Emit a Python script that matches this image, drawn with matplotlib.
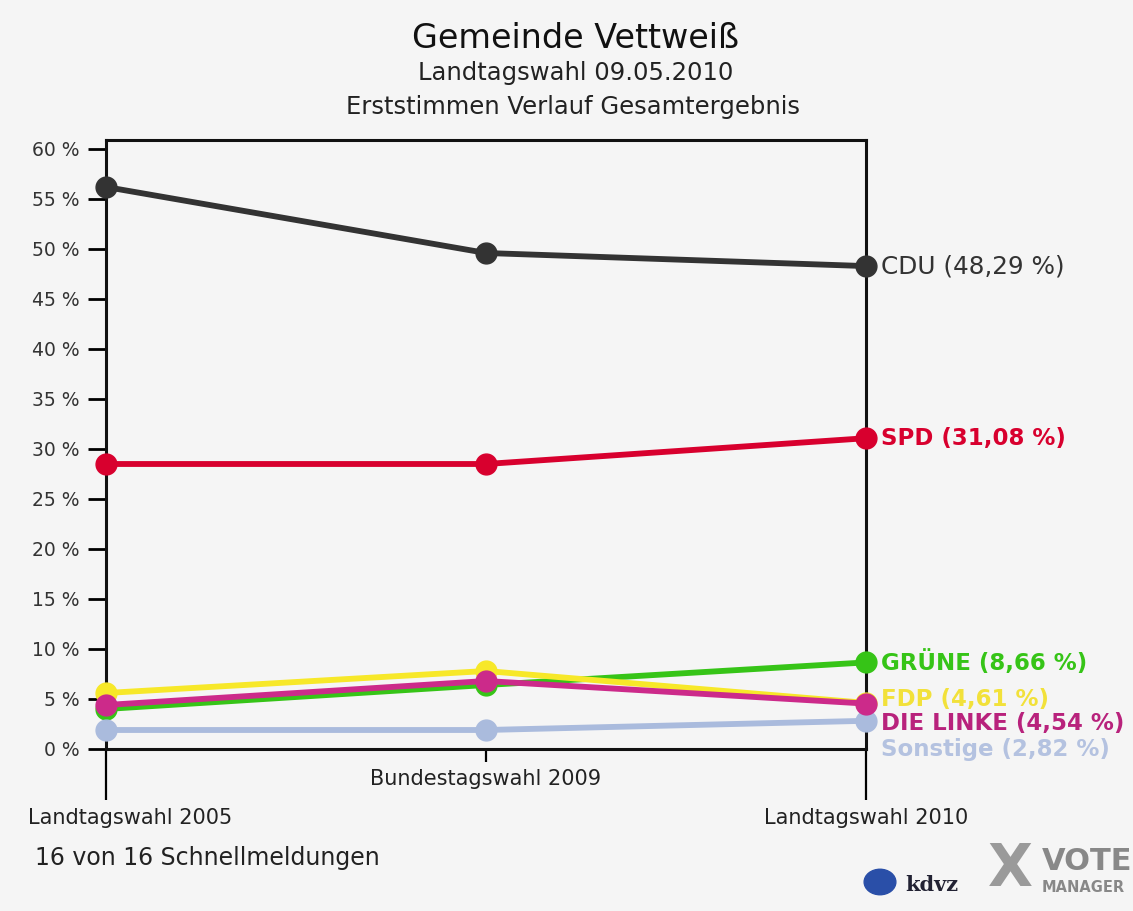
import matplotlib
matplotlib.use("Agg")
import matplotlib.pyplot as plt
from matplotlib.ticker import FixedLocator
from matplotlib.transforms import blended_transform_factory

plt.rcParams['font.family'] = ['DejaVu Sans']

elections = ["Landtagswahl 2005", "Bundestagswahl 2009", "Landtagswahl 2010"]
parties = ["CDU", "SPD", "GRÜNE", "FDP", "DIE LINKE", "Sonstige"]
cdu = [56.2, 49.6, 48.29]
spd = [28.5, 28.5, 31.08]
gruene = [4.0, 6.4, 8.66]
fdp = [5.6, 7.8, 4.61]
linke = [4.4, 6.8, 4.54]
sonstige = [1.9, 1.9, 2.82]
final_labels = ["48,29 %", "31,08 %", "8,66 %", "4,61 %", "4,54 %", "2,82 %"]
yticks = [0, 5, 10, 15, 20, 25, 30, 35, 40, 45, 50, 55, 60]

series = [cdu, spd, gruene, fdp, linke, sonstige]
colors = ["#333333", "#d8002e", "#36c417", "#f7e829", "#cc2a8a", "#aabbdd"]
label_colors = ["#333333", "#d8002e", "#36c417", "#f2e13a", "#b8227c", "#b4c2e0"]
label_weights = ["normal", "bold", "bold", "bold", "bold", "bold"]
label_dy = [0, 0, 0, 0.3, -2.0, -2.9]  # label offsets in data units to avoid overlap
zorders = [3, 3, 3, 4, 5, 4]

bg = "#f5f5f5"
fig = plt.figure(figsize=(11.33, 9.11), dpi=100, facecolor=bg)
ax = fig.add_axes([106/1133, 1-749/911, (866-106)/1133, (749-140)/911])
ax.set_facecolor(bg)

x = list(range(len(elections)))
for vals, c, z in zip(series, colors, zorders):
    ax.plot(x, vals, color=c, lw=4.2, marker="o", ms=15, solid_capstyle="round",
            zorder=z, clip_on=False)

for name, vals, lab, lc, w, dy in zip(parties, series, final_labels, label_colors,
                                       label_weights, label_dy):
    ax.annotate(f"{name} ({lab})", xy=(x[-1], vals[-1] + dy), xytext=(11, 0),
                textcoords="offset points", va="center", ha="left",
                fontsize=16.5 if w == "bold" else 17.8, fontweight=w, color=lc,
                annotation_clip=False)

ax.set_xlim(x[0], x[-1])
ax.set_ylim(0, 60.9)
for s in ax.spines.values():
    s.set_linewidth(2.2)
    s.set_color("#111111")

ax.set_yticks(yticks)
ax.set_yticklabels([f"{v} %" for v in yticks], fontsize=13.5, color="#333333")
ax.tick_params(axis="y", direction="out", length=13, width=2, pad=6)

ax.xaxis.set_major_locator(FixedLocator([x[0], x[-1]]))
ax.xaxis.set_minor_locator(FixedLocator([x[1]]))
ax.set_xticklabels([])
ax.set_xticklabels([], minor=True)
ax.tick_params(axis="x", which="major", direction="out", length=37, width=1.6)
ax.tick_params(axis="x", which="minor", direction="out", length=9, width=1.6)

tr = blended_transform_factory(ax.transData, fig.transFigure)
fig.text(28/1133, 1-818/911, elections[0], ha="left", va="center", fontsize=15, color="#222222")
ax.text(x[1], 1-779/911, elections[1], transform=tr, ha="center", va="center", fontsize=15, color="#222222")
ax.text(x[2], 1-818/911, elections[2], transform=tr, ha="center", va="center", fontsize=15, color="#222222")

fig.text(576/1133, 1-38/911, "Gemeinde Vettweiß", ha="center", va="center", fontsize=24, color="#111111")
fig.text(576/1133, 1-73/911, "Landtagswahl 09.05.2010", ha="center", va="center", fontsize=17.5, color="#222222")
fig.text(573/1133, 1-107/911, "Erststimmen Verlauf Gesamtergebnis", ha="center", va="center", fontsize=17.5, color="#222222")
fig.text(35/1133, 1-858/911, "16 von 16 Schnellmeldungen", ha="left", va="center", fontsize=17, color="#222222")

# logos (approximate)
fig.text(905/1133, 1-885/911, "kdvz", ha="left", va="center", fontsize=15, fontweight="bold",
         family="DejaVu Serif", color="#223")
fig.text(1010/1133, 1-870/911, "X", ha="center", va="center", fontsize=42, fontweight="bold", color="#9a9a9a")
fig.text(1042/1133, 1-862/911, "VOTE", ha="left", va="center", fontsize=22, fontweight="bold", color="#888888")
fig.text(1042/1133, 1-888/911, "MANAGER", ha="left", va="center", fontsize=10.5, fontweight="bold", color="#888888")
fig.patches.append(plt.Circle((880/1133, 1-882/911), 0.014, transform=fig.transFigure, color="#2a4fa8"))

fig.savefig("out.png", dpi=100, facecolor=bg)
